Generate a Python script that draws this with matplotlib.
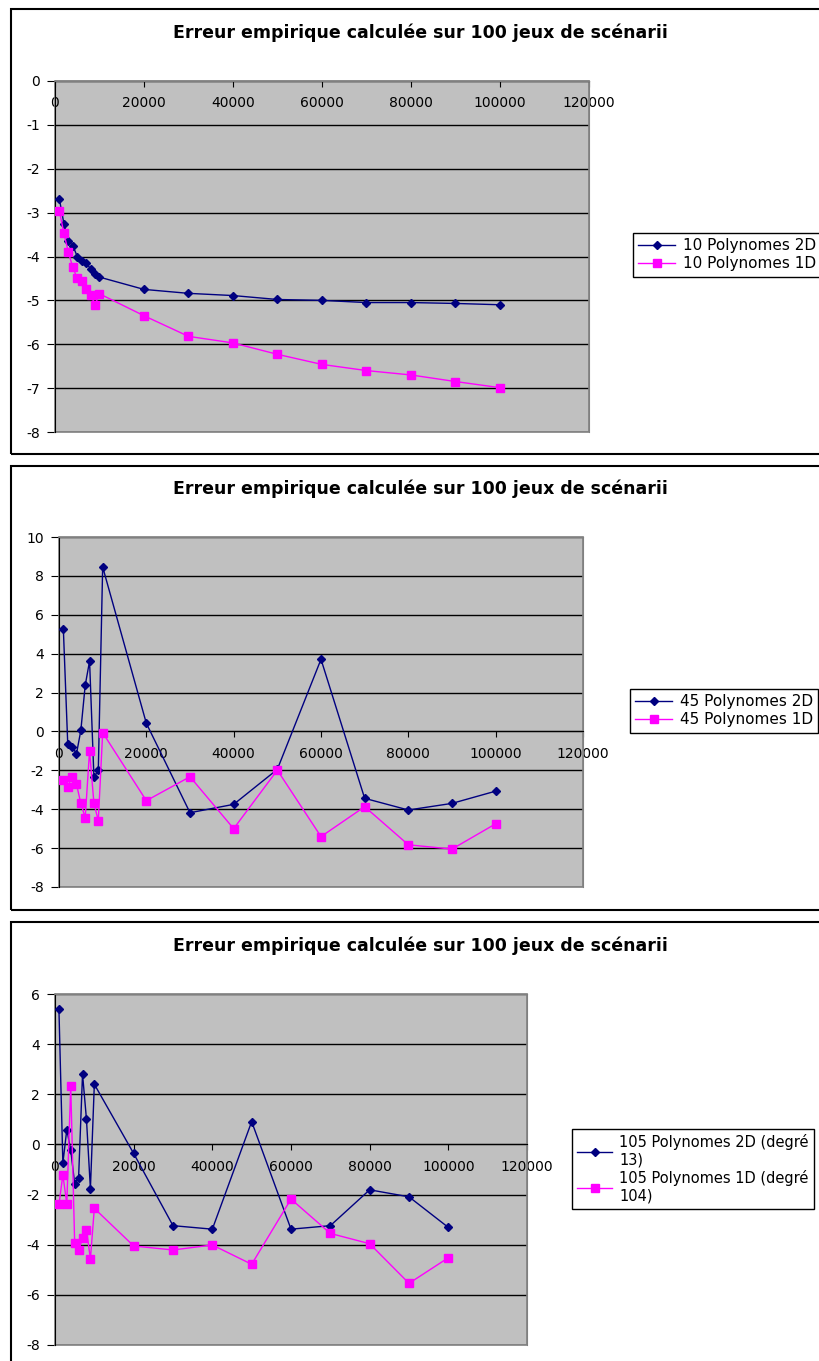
import numpy as np
import matplotlib.pyplot as plt
from matplotlib.patches import Rectangle

# nombre de scenarios (axe x)
n_scen = [1000, 2000, 3000, 4000, 5000, 6000, 7000, 8000, 9000, 10000,
          20000, 30000, 40000, 50000, 60000, 70000, 80000, 90000, 100000]

# panneau 1 : 10 polynomes
p10_2d = [-2.70, -3.25, -3.65, -3.75, -4.00, -4.10, -4.15, -4.28, -4.40, -4.47,
          -4.75, -4.84, -4.89, -4.98, -5.00, -5.05, -5.05, -5.07, -5.10]
p10_1d = [-2.97, -3.47, -3.90, -4.25, -4.50, -4.55, -4.75, -4.87, -5.10, -4.85,
          -5.35, -5.82, -5.97, -6.23, -6.46, -6.60, -6.70, -6.85, -6.99]

# panneau 2 : 45 polynomes
p45_2d = [5.25, -0.63, -0.78, -1.15, 0.05, 2.37, 3.62, -2.36, -1.99, 8.46,
          0.42, -4.18, -3.75, -1.95, 3.71, -3.44, -4.04, -3.70, -3.07]
p45_1d = [-2.50, -2.84, -2.33, -2.71, -3.70, -4.44, -0.99, -3.70, -4.59, -0.06,
          -3.56, -2.33, -5.00, -1.99, -5.41, -3.87, -5.83, -6.05, -4.75]

# panneau 3 : 105 polynomes
p105_2d = [5.39, -0.75, 0.59, -0.22, -1.57, -1.32, 2.81, 1.00, -1.77, 2.40,
           -0.36, -3.24, -3.38, 0.91, -3.38, -3.24, -1.81, -2.09, -3.31]
p105_1d = [-2.39, -1.22, -2.36, 2.34, -3.94, -4.23, -3.75, -3.40, -4.57, -2.55,
           -4.05, -4.21, -4.01, -4.78, -2.18, -3.55, -3.96, -5.54, -4.52]

titre = "Erreur empirique calculée sur 100 jeux de scénarii"

W, H = 820, 1361
fig = plt.figure(figsize=(W / 100, H / 100), dpi=100)
plt.rcParams['font.family'] = ['DejaVu Sans']

panels = [
    # boite du trace (gauche, droite, haut, bas) en pixels
    dict(box=(55, 589, 81, 432), ylim=(-8, 0), ystep=1,
         s2d=p10_2d, s1d=p10_1d,
         labels=["10 Polynomes 2D", "10 Polynomes 1D"],
         frame=(9, 454), ty=33, leg=(633, 233), lfs=11),
    dict(box=(59, 583, 537, 887), ylim=(-8, 10), ystep=2,
         s2d=p45_2d, s1d=p45_1d,
         labels=["45 Polynomes 2D", "45 Polynomes 1D"],
         frame=(466, 910), ty=489, leg=(630, 689), lfs=11),
    dict(box=(55, 527, 994, 1345), ylim=(-8, 6), ystep=2,
         s2d=p105_2d, s1d=p105_1d,
         labels=["105 Polynomes 2D (degré\n13)", "105 Polynomes 1D (degré\n104)"],
         frame=(922, 1380), ty=946, leg=(572, 1129), lfs=10.5),
]

for p in panels:
    l, r, t, b = p['box']
    ax = fig.add_axes([l / W, 1 - b / H, (r - l) / W, (b - t) / H])
    ax.set_facecolor('#c0c0c0')

    ax.plot(n_scen, p['s2d'], color='#000080', lw=1, marker='D', ms=4.5,
            label=p['labels'][0], zorder=4)
    ax.plot(n_scen, p['s1d'], color='#ff00ff', lw=1, marker='s', ms=5.5,
            label=p['labels'][1], zorder=5)

    ax.set_xlim(0, 120000)
    ax.set_ylim(*p['ylim'])
    ax.set_xticks(np.arange(0, 120001, 20000))
    ax.set_yticks(np.arange(p['ylim'][0], p['ylim'][1] + 0.1, p['ystep']))
    ax.yaxis.grid(True, color='black', lw=1)
    ax.set_axisbelow(True)

    for s in ['top', 'right']:
        ax.spines[s].set_color('#808080')
    ax.spines['left'].set_color('black')
    ax.spines['bottom'].set_position(('data', 0))
    ax.spines['bottom'].set_color('black')
    ax.add_patch(Rectangle((0, 0), 1, 1, transform=ax.transAxes, fill=False,
                           edgecolor='#808080', lw=1.2, zorder=1, clip_on=False))

    ax.tick_params(axis='x', direction='out', length=4, pad=7, labelsize=10,
                   colors='black')
    ax.tick_params(axis='y', direction='out', length=6, pad=5, labelsize=10,
                   colors='black')
    ax.xaxis.set_major_formatter(plt.FormatStrFormatter('%d'))
    ax.yaxis.set_major_formatter(plt.FormatStrFormatter('%d'))

    # cadre du graphique
    f0, f1 = p['frame']
    fig.patches.append(Rectangle((11 / W, 1 - f1 / H), (W + 20) / W, (f1 - f0) / H,
                                 transform=fig.transFigure, fill=False,
                                 edgecolor='black', lw=1.5))
    fig.text(420 / W, 1 - p['ty'] / H, titre, ha='center', va='center',
             fontsize=12.5, fontweight='bold')

    lx, ly = p['leg']
    leg = ax.legend(loc='upper left', bbox_to_anchor=(lx / W, 1 - ly / H),
                    bbox_transform=fig.transFigure, borderaxespad=0,
                    fancybox=False, edgecolor='black', framealpha=1,
                    fontsize=p['lfs'], handlelength=2.4, handletextpad=0.5,
                    borderpad=0.35, labelspacing=0.2)
    leg.get_frame().set_linewidth(1)

fig.savefig('out.png', dpi=100)
